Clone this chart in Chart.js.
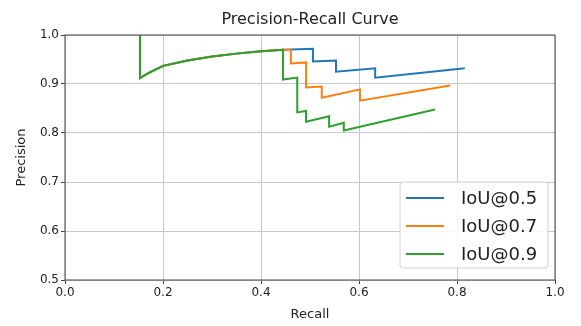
<!DOCTYPE html>
<html>
<head>
<meta charset="utf-8">
<script src="https://cdn.jsdelivr.net/npm/chart.js@4"></script>
<style>
  html, body { margin: 0; padding: 0; background: #fff; }
  #wrap { width: 581px; height: 326px; }
</style>
</head>
<body>
<div id="wrap"><canvas id="prChart" width="581" height="326"></canvas></div>
<script>
// shared head of all three curves (green is drawn on top of it)
const headRecall = [0.153, 0.153, 0.17, 0.2, 0.25, 0.3, 0.35, 0.4, 0.445];
const headPrec   = [1.0, 0.912, 0.922, 0.937, 0.948, 0.956, 0.962, 0.967, 0.970];

const recall05 = [0.506, 0.506, 0.553, 0.553, 0.633, 0.633, 0.816];
const prec05   = [0.972, 0.946, 0.948, 0.925, 0.932, 0.913, 0.932];

const recall07 = [0.461, 0.461, 0.492, 0.492, 0.524, 0.524, 0.602, 0.602, 0.786];
const prec07   = [0.970, 0.942, 0.944, 0.893, 0.895, 0.872, 0.889, 0.866, 0.897];

const recall09 = [0.445, 0.474, 0.474, 0.492, 0.492, 0.539, 0.539, 0.569, 0.569, 0.755];
const prec09   = [0.909, 0.913, 0.842, 0.845, 0.823, 0.834, 0.813, 0.821, 0.805, 0.848];

const seriesLabels = ['IoU@0.5', 'IoU@0.7', 'IoU@0.9'];
const seriesColors = ['#1f77b4', '#ff7f0e', '#2ca02c'];

const xTicks = [0, 0.2, 0.4, 0.6, 0.8, 1.0];
const yTicks = [0.5, 0.6, 0.7, 0.8, 0.9, 1.0];

const chartTitle = 'Precision-Recall Curve';

function toPoints(rs, ps) {
    const r = headRecall.concat(rs);
    const p = headPrec.concat(ps);
    return r.map((x, i) => ({ x: x, y: p[i] }));
}

const FONT = 'DejaVu Sans';

// matplotlib style frame, title over the axes, legend inside the axes
const framePlugin = {
    id: 'frame',
    afterDatasetsDraw(chart) {
        const { ctx, chartArea: a } = chart;
        ctx.save();
        ctx.strokeStyle = '#444';
        ctx.lineWidth = 1;
        ctx.strokeRect(a.left, a.top, a.right - a.left, a.bottom - a.top);

        // title centred on the plot area
        ctx.fillStyle = '#222';
        ctx.font = '16px ' + FONT;
        ctx.textAlign = 'center';
        ctx.textBaseline = 'middle';
        ctx.fillText(chartTitle, (a.left + a.right) / 2, 20);

        // legend box, bottom right
        const w = 148, h = 86;
        const bx = a.right - 7 - w, by = a.bottom - 12 - h;
        ctx.fillStyle = 'rgba(255,255,255,0.85)';
        ctx.strokeStyle = '#d0d0d0';
        ctx.beginPath();
        ctx.roundRect(bx, by, w, h, 3);
        ctx.fill();
        ctx.stroke();
        ctx.font = '18px ' + FONT;
        ctx.textAlign = 'left';
        chart.data.datasets.forEach((ds, i) => {
            const yy = by + 16 + i * 28;
            ctx.strokeStyle = ds.borderColor;
            ctx.lineWidth = 2;
            ctx.beginPath();
            ctx.moveTo(bx + 6, yy);
            ctx.lineTo(bx + 44, yy);
            ctx.stroke();
            ctx.fillStyle = '#222';
            ctx.fillText(ds.label, bx + 61, yy + 1);
        });
        ctx.restore();
    }
};

new Chart(document.getElementById('prChart'), {
    type: 'line',
    data: {
        datasets: [
            { label: seriesLabels[0], data: toPoints(recall05, prec05), borderColor: seriesColors[0], order: 2 },
            { label: seriesLabels[1], data: toPoints(recall07, prec07), borderColor: seriesColors[1], order: 1 },
            { label: seriesLabels[2], data: toPoints(recall09, prec09), borderColor: seriesColors[2], order: 0 }
        ]
    },
    options: {
        responsive: false,
        animation: false,
        events: [],
        layout: { padding: { left: 10, right: 26, top: 35, bottom: 0 } },
        elements: {
            line: { borderWidth: 2, tension: 0, fill: false },
            point: { radius: 0 }
        },
        plugins: {
            legend: { display: false },
            tooltip: { enabled: false },
            title: { display: false }
        },
        scales: {
            x: {
                type: 'linear',
                min: 0, max: 1,
                afterBuildTicks: (s) => { s.ticks = xTicks.map(v => ({ value: v })); },
                afterFit: (s) => { s.height = 46; },
                ticks: {
                    color: '#222',
                    font: { family: FONT, size: 12 },
                    padding: 2,
                    maxRotation: 0,
                    callback: (v) => Number(v).toFixed(1)
                },
                grid: { color: '#c8c8c8', tickColor: '#444', tickLength: 4 },
                border: { display: false },
                title: {
                    display: true, text: 'Recall', color: '#222',
                    font: { family: FONT, size: 13 }, padding: { top: 0 }
                }
            },
            y: {
                type: 'linear',
                min: 0.5, max: 1.0,
                afterBuildTicks: (s) => { s.ticks = yTicks.map(v => ({ value: v })); },
                afterFit: (s) => { s.width = 55; },
                ticks: {
                    color: '#222',
                    font: { family: FONT, size: 12 },
                    padding: 2,
                    callback: (v) => Number(v).toFixed(1)
                },
                grid: { color: '#c8c8c8', tickColor: '#444', tickLength: 4 },
                border: { display: false },
                title: {
                    display: true, text: 'Precision', color: '#222',
                    font: { family: FONT, size: 13 }, padding: { bottom: 2 }
                }
            }
        }
    },
    plugins: [framePlugin]
});
</script>
</body>
</html>
